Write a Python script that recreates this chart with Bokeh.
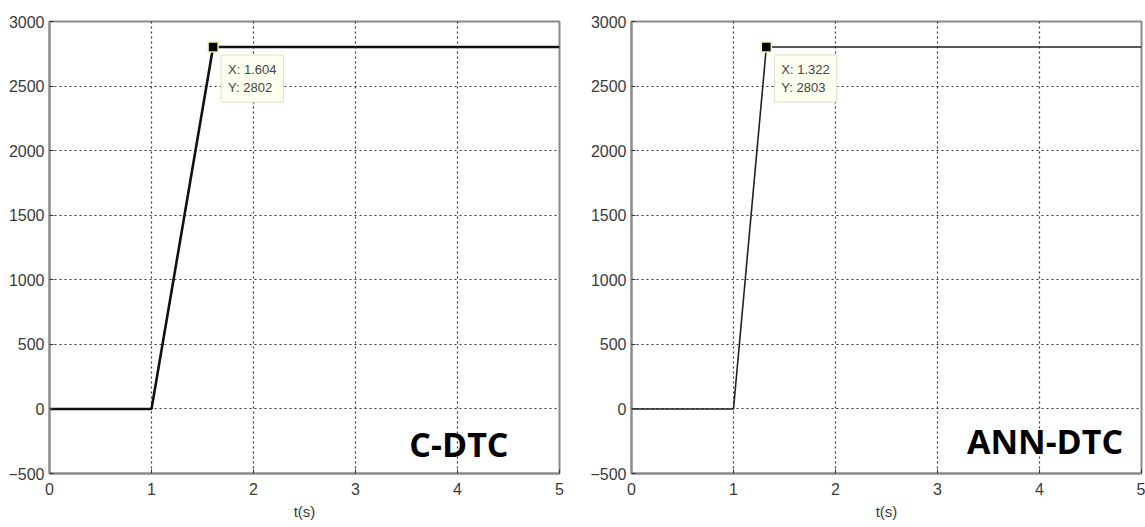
from bokeh.plotting import figure
from bokeh.layouts import row
from bokeh.models import Range1d, FixedTicker, Label
from bokeh.embed import file_html
from bokeh.resources import INLINE

# ---- data ----
t_cdtc = [0, 1, 1.604, 5]
w_cdtc = [0, 0, 2802, 2802]
t_ann = [0, 1, 1.322, 5]
w_ann = [0, 0, 2803, 2803]
marker_cdtc = (1.604, 2802)
marker_ann = (1.322, 2803)
x_ticks = [0, 1, 2, 3, 4, 5]
y_ticks = [-500, 0, 500, 1000, 1500, 2000, 2500, 3000]
titles = ["C-DTC", "ANN-DTC"]
x_label = "t(s)"

TICK_FONT = "Liberation Sans"
GRID_COLOR = "#111111"
AXIS_COLOR = "#8a8a8a"


def make_panel(t, w, mk, title, width, height, bl, br, bt, bb, lw, lcolor, title_x, title_y):
    p = figure(width=width, height=height, output_backend="svg", toolbar_location=None,
               x_range=Range1d(0, 5), y_range=Range1d(-500, 3000),
               min_border_left=bl, min_border_right=br, min_border_top=bt, min_border_bottom=bb)
    p.background_fill_color = "white"
    p.border_fill_color = "white"
    p.outline_line_color = AXIS_COLOR
    p.outline_line_width = 2
    p.outline_line_alpha = 1.0

    p.xaxis.ticker = FixedTicker(ticks=x_ticks)
    p.yaxis.ticker = FixedTicker(ticks=y_ticks)
    for ax in (p.xaxis, p.yaxis):
        ax.axis_line_color = AXIS_COLOR
        ax.axis_line_width = 2
        ax.major_tick_in = 4
        ax.major_tick_out = 0
        ax.major_tick_line_color = "#333333"
        ax.minor_tick_line_color = None
        ax.major_label_text_font = TICK_FONT
        ax.major_label_text_font_size = "16px"
        ax.major_label_text_color = "#3a3a3a"
    p.yaxis.major_label_standoff = 5
    p.xaxis.major_label_standoff = 9
    p.xaxis.axis_label = x_label
    p.xaxis.axis_label_text_font = TICK_FONT
    p.xaxis.axis_label_text_font_style = "normal"
    p.xaxis.axis_label_text_font_size = "15px"
    p.xaxis.axis_label_text_color = "#3a3a3a"
    p.xaxis.axis_label_standoff = 5

    p.grid.grid_line_color = GRID_COLOR
    p.grid.grid_line_dash = "2 3"
    p.grid.grid_line_width = 1.2
    p.grid.grid_line_alpha = 0.85

    p.line(t, w, line_color=lcolor, line_width=lw)
    p.scatter([mk[0]], [mk[1]], marker="square", size=10, fill_color="black",
              line_color="#f4f0b0", line_width=1.5)
    tip = Label(x=mk[0], y=mk[1], x_offset=8, y_offset=-8,
                text=f"X: {mk[0]}\nY: {mk[1]}", text_baseline="top", text_align="left",
                text_font=TICK_FONT, text_font_size="13px", text_color="#444444",
                background_fill_color="#fffff0", background_fill_alpha=1.0,
                border_line_color="#e0e0c8", border_line_width=1, padding=7)
    p.add_layout(tip)
    lab = Label(x=title_x, y=title_y, text=title, text_align="right", text_baseline="middle",
                text_font="Open Sans", text_font_style="bold", text_font_size="34px",
                text_color="black")
    p.add_layout(lab)
    return p


p1 = make_panel(t_cdtc, w_cdtc, marker_cdtc, titles[0], 570, 527, 49, 11, 18, 54,
                2.6, "#111111", 4.5, -270)
p2 = make_panel(t_ann, w_ann, marker_ann, titles[1], 575, 527, 61, 4, 21, 47,
                1.6, "#222222", 4.82, -252)

layout = row(p1, p2, spacing=0)
open("out.html", "w").write(file_html(layout, INLINE))
